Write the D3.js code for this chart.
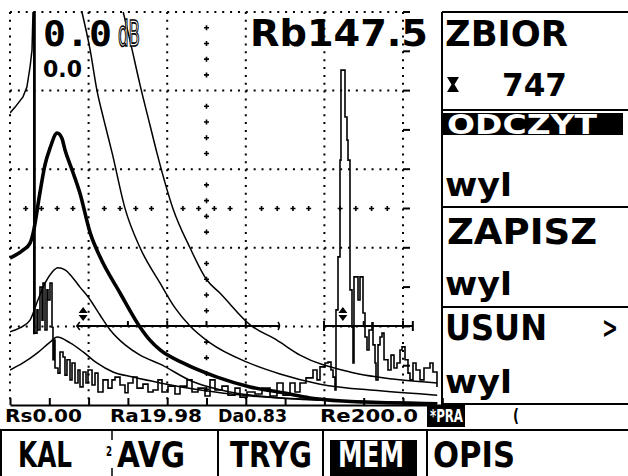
<!DOCTYPE html>
<html><head><meta charset="utf-8">
<script src="https://cdn.jsdelivr.net/npm/d3@7"></script>
<style>
html,body{margin:0;padding:0;background:#fff;}
svg{display:block;}
text{font-family:"DejaVu Sans",sans-serif;font-weight:bold;}
</style></head><body>
<svg id="c" width="628" height="476"></svg>
<script>
// ---------- DATA ----------
const xTickValues = [0,10,20,30,40,50,60,70,80,90,100,110];
const xGridValues = [0,20,40,60,80,100];
const yGridValues = [0,20,40,60,80,100];
const rightScaleValues = [0,10,20,30,40,50,60,70,80,90,100];

// DAC curves (x in screen %, y in amplitude %)
const dacMain = [[0,37.4],[3.3,39.4],[5.1,41.2],[5.9,43.8],[7.6,53.9],[8.9,61.1],[10.2,65.4],[12.0,69.2],[13.2,67.9],[14.0,64.9],[15.8,59.8],[17.8,53.9],[20.4,43.8],[22.9,37.7],[28.0,28.5],[33.1,19.8],[35.6,16.5],[38.2,14.0],[44.0,10.7],[52.7,7.1],[61.1,4.6],[69.5,3.1],[76.3,1.8],[84.7,1.0],[99.2,0.5],[108.7,0.3]];
const dacUpperLeft = [[0,74.3],[1.3,75.8],[3.3,78.4],[4.3,80.9],[5.1,86.0],[5.6,90.3],[5.85,100]];
const dacUpper = [[18.3,100],[20.4,90.3],[22.1,80.2],[23.9,72.5],[26.0,64.1],[29.3,49.9],[33.1,40.0],[38.2,31.0],[42.0,24.7],[45.8,20.1],[50.9,15.8],[60.3,10.9],[68.7,7.9],[78.9,5.3],[94.2,3.6],[108.7,2.5]];
const dacTop = [[28.8,100],[30.5,92.9],[33.1,81.4],[35.6,71.3],[37.4,64.1],[41.5,49.9],[45.8,40.0],[50.1,31.8],[53.4,28.5],[61.1,20.4],[67.9,16.5],[73.8,12.7],[86.5,8.4],[99.2,6.4],[108.7,5.6]];
const dacLower = [[0,18.6],[2.5,19.6],[5.1,21.6],[7.1,26.7],[8.9,31.0],[10.7,33.8],[12.2,34.9],[14.0,34.4],[15.8,32.6],[17.8,30.0],[19.9,27.5],[22.9,22.9],[25.5,19.1],[29.3,15.3],[33.1,12.7],[38.2,10.4],[46.6,5.9],[56.0,3.3],[68.7,1.8],[86.5,1.0],[108.7,0.5]];
const dacBottom = [[0,8.9],[3.3,10.7],[6.9,13.2],[10.2,16.0],[12.0,17.3],[15.3,15.8],[18.6,13.5],[22.1,10.7],[26.2,8.4],[31.3,7.1],[38.2,5.6],[48.4,3.8],[61.1,2.3],[78.9,1.3],[108.7,0.5]];

// A-scan echo signal
const signal = [[5.85,100],[6.36,100],[6.36,18.3],[6.87,24.2],[7.12,19.1],[7.63,30.0],[8.14,21.6],[8.4,31.0],[8.91,19.1],[9.41,29.3],[9.67,26.7],[10.18,31.0],[10.69,19.8],[10.94,11.5],[11.2,16.5],[11.45,9.4],[12.21,8.1],[12.72,13.5],[13.49,12.2],[13.99,7.6],[14.5,11.5],[15.27,6.4],[15.78,10.7],[16.54,5.6],[17.3,8.9],[17.81,4.6],[18.58,8.4],[19.34,5.6],[19.85,8.9],[20.87,5.1],[21.63,8.1],[22.39,3.3],[23.66,6.4],[24.94,4.3],[25.95,6.4],[26.72,7.1],[27.99,5.1],[29.26,3.1],[30.03,5.6],[31.3,7.1],[32.32,4.3],[33.84,5.3],[35.11,3.3],[36.39,3.8],[37.66,6.4],[38.68,3.3],[40.2,4.8],[41.98,2.8],[43.26,4.8],[45.04,6.4],[46.31,3.3],[47.84,4.3],[49.62,2.3],[50.89,6.4],[52.16,3.8],[53.94,4.8],[55.47,2.5],[57.25,4.3],[58.52,2.0],[60.31,3.3],[62.34,2.8],[64.12,4.3],[66.16,2.3],[67.94,5.6],[69.47,2.5],[71.25,5.6],[72.52,3.3],[73.79,5.6],[75.32,6.9],[77.1,8.9],[78.12,6.4],[78.88,9.7],[80.15,10.7],[80.92,10.9],[81.68,8.9],[82.19,7.1],[82.7,3.8],[82.95,24.2],[83.46,37.7],[83.97,62.3],[84.22,85.2],[84.73,85.2],[85.24,73.3],[85.75,67.4],[86.01,62.3],[86.51,29.3],[87.02,19.8],[87.28,10.7],[87.53,32.6],[88.3,32.6],[88.55,26.7],[89.06,32.6],[89.82,23.4],[90.33,17.3],[90.84,14.0],[91.35,19.1],[92.11,20.9],[92.37,15.3],[92.88,10.7],[93.13,6.4],[93.64,15.3],[94.15,17.3],[94.66,18.3],[95.17,11.5],[96.18,8.9],[96.95,12.7],[97.71,9.4],[98.47,10.7],[99.24,14.0],[99.75,14.8],[100.51,11.5],[101.27,8.1],[101.78,6.4],[102.54,10.7],[103.31,8.9],[104.33,6.4],[105.34,9.4],[106.87,10.7],[107.63,8.4],[108.65,4.6]];

// Gates
const gateStart = [17.0, 79.9];
const gateEnd = [68.7, 102.5];
const gateLevel = [20.1, 20.1];
const gateMarker = [18.6, 84.7];
const gateTicks = [[30,40,50,60],[90,100]];

// Texts
const gainMain = "0.0";
const gainUnit = "dB";
const gainRef = "0.0";
const cursorReading = "Rb147.5";
const menuLabels = ["ZBIOR","747","ODCZYT","wyl","ZAPISZ","wyl","USUN","wyl"];
const statusLabels = ["Rs0.00","Ra19.98","Da0.83","Re200.0","*PRA"];
const softKeys = ["KAL","AVG","TRYG","MEM","OPIS"];

// ---------- DRAW ----------
const svg = d3.select("#c");
const x = d3.scaleLinear().domain([0,110]).range([10,442.3]);
const y = d3.scaleLinear().domain([0,100]).range([405,12]);

svg.append("defs").append("clipPath").attr("id","plot")
  .append("rect").attr("x",10).attr("y",11).attr("width",431).attr("height",395);

const g = svg.append("g");

// dotted grid
g.selectAll(".vg").data(xGridValues).join("line")
  .attr("x1",d=>x(d)).attr("x2",d=>x(d)).attr("y1",y(100)).attr("y2",y(0))
  .attr("stroke","#000").attr("stroke-width",2).attr("stroke-dasharray","2 5.86");
g.selectAll(".hg").data(yGridValues.filter(v=>v>0)).join("line")
  .attr("x1",x(0)).attr("x2",x(100)).attr("y1",d=>y(d)).attr("y2",d=>y(d))
  .attr("stroke","#000").attr("stroke-width",2).attr("stroke-dasharray","2 5.86");

// center crosses
const crossPos = d3.range(0,101,4).filter(v=>v%20!==0);
const crossG = g.append("g").attr("stroke","#000").attr("stroke-width",1.6).attr("fill","none");
const cX = x(50), cY = y(50);
crossPos.forEach(v=>{
  crossG.append("path").attr("d",`M${cX-2.5},${y(v)}h5M${cX},${y(v)-2.5}v5`);
  crossG.append("path").attr("d",`M${x(v)-2.5},${cY}h5M${x(v)},${cY-2.5}v5`);
});

// right scale dashes
g.selectAll(".rd").data(rightScaleValues).join("line")
  .attr("x1",x(100)).attr("x2",x(100)+7).attr("y1",d=>y(d)).attr("y2",d=>y(d))
  .attr("stroke","#000").attr("stroke-width",2);

// bottom axis
const axis = d3.axisBottom(x).tickValues(xTickValues).tickSize(-7).tickSizeOuter(0).tickFormat("");
const ax = svg.append("g").attr("transform",`translate(0,${y(0)})`).call(axis);
ax.select(".domain").attr("stroke","#000").attr("stroke-width",2);
ax.selectAll(".tick line").attr("stroke","#000").attr("stroke-width",2);

// curves
const plot = svg.append("g").attr("clip-path","url(#plot)");
const line = d3.line().x(d=>x(d[0])).y(d=>y(d[1])).curve(d3.curveMonotoneX);
const lineL = d3.line().x(d=>x(d[0])).y(d=>y(d[1])).curve(d3.curveLinear);
[[dacUpperLeft,lineL],[dacUpper,line],[dacTop,line],[dacLower,line],[dacBottom,line]].forEach(([d,l])=>{
  plot.append("path").datum(d).attr("d",l).attr("fill","none").attr("stroke","#000").attr("stroke-width",1.5);
});
plot.append("path").datum(dacMain).attr("d",line).attr("fill","none").attr("stroke","#000").attr("stroke-width",3.6);

// signal
plot.append("path").datum(signal)
  .attr("d",d3.line().x(d=>x(d[0])).y(d=>y(d[1])).curve(d3.curveStepAfter))
  .attr("fill","none").attr("stroke","#000").attr("stroke-width",1.6);
plot.append("line").attr("x1",x(5.85)+1).attr("x2",x(5.85)+1).attr("y1",y(100)).attr("y2",y(18))
  .attr("stroke","#000").attr("stroke-width",2);

// gates
gateStart.forEach((s,i)=>{
  const gy = y(gateLevel[i]);
  const gg = plot.append("g").attr("stroke","#000").attr("fill","none");
  gg.append("line").attr("x1",x(s)).attr("x2",x(gateEnd[i])).attr("y1",gy).attr("y2",gy).attr("stroke-width",2);
  if(i===0){
    gg.append("path").attr("d",`M${x(s)+3},${gy-4}L${x(s)},${gy}L${x(s)+3},${gy+4}`).attr("stroke-width",1.5);
    gg.append("path").attr("d",`M${x(gateEnd[i])-2},${gy-4}Q${x(gateEnd[i])+1},${gy} ${x(gateEnd[i])-2},${gy+4}`).attr("stroke-width",1.5);
  } else {
    gg.append("line").attr("x1",x(s)).attr("x2",x(s)).attr("y1",gy-5).attr("y2",gy+5).attr("stroke-width",2);
    gg.append("line").attr("x1",x(gateEnd[i])).attr("x2",x(gateEnd[i])).attr("y1",gy-5).attr("y2",gy+5).attr("stroke-width",2);
  }
  gateTicks[i].forEach(t=>{
    gg.append("line").attr("x1",x(t)).attr("x2",x(t)).attr("y1",gy-5).attr("y2",gy).attr("stroke-width",2);
  });
  const mx = x(gateMarker[i]);
  plot.append("path").attr("d",`M${mx-4.5},${gy-13}L${mx+4.5},${gy-13}L${mx},${gy-19}Z M${mx-4.5},${gy-11}L${mx+4.5},${gy-11}L${mx},${gy-5}Z`).attr("fill","#000");
});

// ---------- OVERLAY TEXTS ----------
function txt(px,py,s,size,w,opt={}){
  const t = svg.append("text").attr("x",px).attr("y",py).text(s)
    .attr("font-size",size).attr("fill",opt.fill||"#000");
  if(w) t.attr("textLength",w).attr("lengthAdjust","spacingAndGlyphs");
  if(opt.family) t.style("font-family",opt.family);
  if(opt.weight) t.style("font-weight",opt.weight);
  if(opt.stroke) t.attr("stroke",opt.stroke).attr("stroke-width",opt.sw||1);
  return t;
}
txt(43,46,gainMain,36,69,{family:"DejaVu Sans Mono"});
txt(118,46,gainUnit,35,22,{fill:"#fff",stroke:"#000",sw:1.6,family:"DejaVu Sans Condensed",weight:"normal"});
txt(43,77,gainRef,23,39,{family:"DejaVu Sans Condensed"});
txt(250,46,cursorReading,38,178);

// ---------- RIGHT MENU ----------
const m = svg.append("g").attr("stroke","#000").attr("stroke-width",2);
m.append("line").attr("x1",442).attr("x2",442).attr("y1",12).attr("y2",405);
[12,110,207,307,404].forEach(v=>m.append("line").attr("x1",442).attr("x2",628).attr("y1",v).attr("y2",v));
svg.append("rect").attr("x",443).attr("y",113).attr("width",180).attr("height",22).attr("fill","#000");
svg.append("path").attr("d","M447,77H459L454.5,84.5L459,92H447L451.5,84.5Z").attr("fill","#000");
txt(445,46,menuLabels[0],36,123);
txt(502,96,menuLabels[1],32,65);
txt(447,134,menuLabels[2],27,150,{fill:"#fff"});
txt(445,196,menuLabels[3],32,67);
txt(447,244,menuLabels[4],36,150);
txt(445,295,menuLabels[5],32,67);
txt(445,340,menuLabels[6],36,102);
txt(602,338,">",30,16);
txt(445,393,menuLabels[7],32,67);

// ---------- STATUS LINE ----------
const stPos = [[5,77],[110,92],[218,69],[320,98]];
stPos.forEach(([px,w],i)=>txt(px,422,statusLabels[i],17,w,{family:"DejaVu Sans Condensed"}));
svg.append("rect").attr("x",427).attr("y",405).attr("width",38).attr("height",22).attr("fill","#000");
txt(430,422,statusLabels[4],17,33,{fill:"#fff",family:"DejaVu Sans Condensed"});
txt(513,422,"(",17,6,{family:"DejaVu Sans Condensed"});

// ---------- SOFT KEYS ----------
const sk = svg.append("g").attr("stroke","#000").attr("stroke-width",2);
sk.append("line").attr("x1",0).attr("x2",628).attr("y1",430).attr("y2",430);
sk.append("line").attr("x1",1).attr("x2",1).attr("y1",430).attr("y2",476);
[218,323,427].forEach(v=>sk.append("line").attr("x1",v).attr("x2",v).attr("y1",430).attr("y2",476));
sk.append("line").attr("x1",112).attr("x2",112).attr("y1",430).attr("y2",440).attr("stroke-width",1.5);
sk.append("line").attr("x1",112).attr("x2",112).attr("y1",468).attr("y2",476).attr("stroke-width",1.5);
svg.append("rect").attr("x",330).attr("y",440).attr("width",87).attr("height",36).attr("fill","#000");
txt(106,456,"2",14,6,{family:"DejaVu Sans Condensed"});
const skPos = [[18,54],[117,68],[230,82],[338,66],[433,82]];
skPos.forEach(([px,w],i)=>txt(px,467,softKeys[i],36,w,{fill:i===3?"#fff":"#000"}));
</script>
</body></html>
